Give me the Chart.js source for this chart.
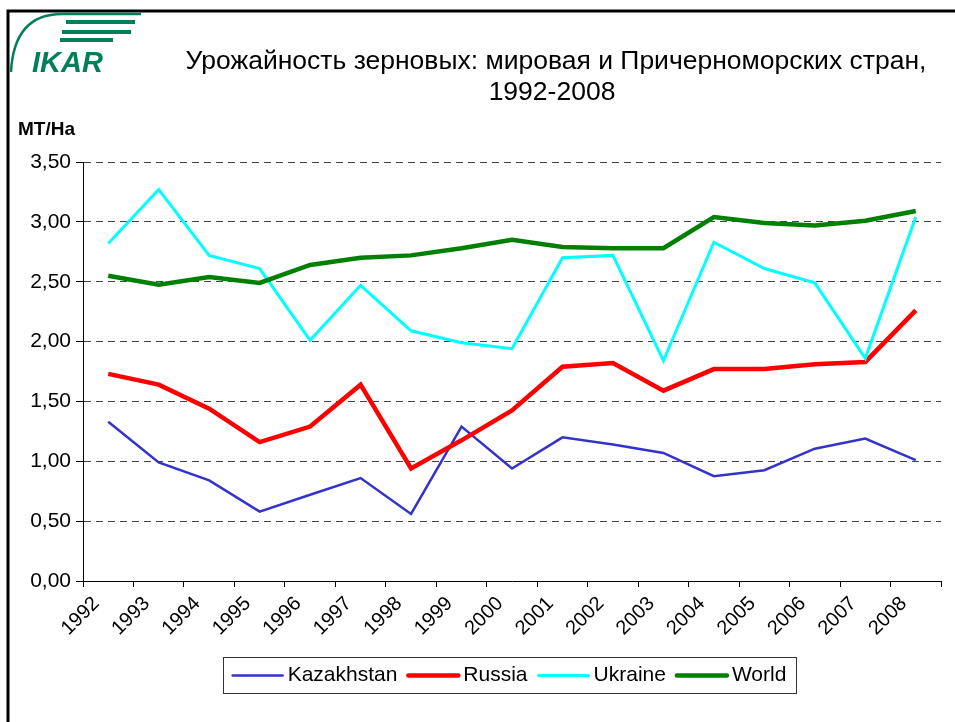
<!DOCTYPE html>
<html>
<head>
<meta charset="utf-8">
<script src="https://cdn.jsdelivr.net/npm/chart.js@4.4.1/dist/chart.umd.min.js"></script>
<style>
  html, body { margin: 0; padding: 0; background: #fff; }
  #wrap { width: 955px; height: 722px; position: relative; }
</style>
</head>
<body>
<div id="wrap"><canvas id="chart" width="955" height="722"></canvas></div>
<script>
// Данные: урожайность зерновых, т/га
const years = ['1992', '1993', '1994', '1995', '1996', '1997', '1998', '1999', '2000',
               '2001', '2002', '2003', '2004', '2005', '2006', '2007', '2008'];
const kazakhstan = [1.33, 0.99, 0.84, 0.58, 0.72, 0.86, 0.56, 1.29, 0.94,
                    1.20, 1.14, 1.07, 0.875, 0.925, 1.105, 1.19, 1.01];
const russia = [1.73, 1.64, 1.44, 1.16, 1.29, 1.64, 0.94, 1.175, 1.425,
                1.79, 1.82, 1.59, 1.77, 1.77, 1.81, 1.83, 2.26];
const ukraine = [2.82, 3.27, 2.72, 2.61, 2.01, 2.47, 2.09, 1.99, 1.94,
                 2.70, 2.72, 1.84, 2.83, 2.61, 2.49, 1.86, 3.04];
const world = [2.55, 2.475, 2.54, 2.49, 2.64, 2.70, 2.72, 2.78, 2.85,
               2.79, 2.78, 2.78, 3.04, 2.99, 2.97, 3.01, 3.09];

const seriesNames = ['Kazakhstan', 'Russia', 'Ukraine', 'World'];
const titleLines = ['Урожайность зерновых: мировая и Причерноморских стран,', '1992-2008'];
const unitLabel = 'MT/Ha';
const logoText = 'IKAR';

const FONT = "'Liberation Sans', Arial, sans-serif";
const LOGO_GREEN = '#00805A';

// Рамка, логотип, заголовок, подпись оси и легенда
const decorPlugin = {
  id: 'decor',
  afterDraw(chart) {
    const ctx = chart.ctx;
    ctx.save();

    // рамка (только верх и лево)
    ctx.strokeStyle = '#000';
    ctx.lineWidth = 3;
    ctx.beginPath();
    ctx.moveTo(955, 11);
    ctx.lineTo(8, 11);
    ctx.lineTo(8, 722);
    ctx.stroke();

    // логотип IKAR
    ctx.strokeStyle = LOGO_GREEN;
    ctx.lineWidth = 2.5;
    ctx.beginPath();
    ctx.moveTo(11, 72);
    ctx.quadraticCurveTo(14, 14, 62, 14);
    ctx.lineTo(141, 14);
    ctx.stroke();
    ctx.lineWidth = 4;
    [[66, 135, 22], [62, 131, 32], [60, 113, 40]].forEach(([x1, x2, y]) => {
      ctx.beginPath();
      ctx.moveTo(x1, y);
      ctx.lineTo(x2, y);
      ctx.stroke();
    });
    ctx.fillStyle = LOGO_GREEN;
    ctx.font = `italic bold 29px ${FONT}`;
    ctx.textAlign = 'left';
    ctx.textBaseline = 'alphabetic';
    ctx.fillText(logoText, 32, 72);

    // заголовок
    ctx.fillStyle = '#000';
    ctx.font = `26.5px ${FONT}`;
    ctx.textAlign = 'center';
    ctx.textBaseline = 'middle';
    ctx.fillText(titleLines[0], 556, 62);
    ctx.fillText(titleLines[1], 552, 93);

    // единицы
    ctx.font = `bold 19px ${FONT}`;
    ctx.textAlign = 'left';
    ctx.fillText(unitLabel, 18, 130);

    // легенда
    ctx.font = `21px ${FONT}`;
    const sample = 52, gapLine = 4, gapItem = 10, padX = 9;
    const items = chart.data.datasets.map(ds => ({
      label: ds.label, color: ds.borderColor, width: ds.borderWidth,
      textW: ctx.measureText(ds.label).width
    }));
    let total = padX * 2 - gapItem;
    items.forEach(it => { total += sample + gapLine + it.textW + gapItem; });
    const boxX = 509 - total / 2, boxY = 657, boxH = 36;
    ctx.strokeStyle = '#333';
    ctx.lineWidth = 1;
    ctx.strokeRect(Math.round(boxX) + 0.5, boxY + 0.5, Math.round(total), boxH);
    let x = boxX + padX;
    const cy = boxY + boxH / 2 + 0.5;
    items.forEach(it => {
      ctx.strokeStyle = it.color;
      ctx.lineWidth = it.width;
      ctx.lineCap = 'round';
      ctx.beginPath();
      ctx.moveTo(x + 1, cy);
      ctx.lineTo(x + sample - 1, cy);
      ctx.stroke();
      x += sample + gapLine;
      ctx.fillStyle = '#000';
      ctx.textAlign = 'left';
      ctx.fillText(it.label, x, cy);
      x += it.textW + gapItem;
    });

    ctx.restore();
  }
};

const mkSet = (label, data, color, width, order) => ({
  label, data,
  borderColor: color,
  backgroundColor: color,
  borderWidth: width,
  pointRadius: 0,
  pointHoverRadius: 0,
  tension: 0,
  fill: false,
  order
});

new Chart(document.getElementById('chart'), {
  type: 'line',
  data: {
    labels: years,
    datasets: [
      mkSet(seriesNames[0], kazakhstan, '#3333CC', 2.5, 4),
      mkSet(seriesNames[1], russia, '#FF0000', 4.5, 3),
      mkSet(seriesNames[2], ukraine, '#00FFFF', 3, 2),
      mkSet(seriesNames[3], world, '#008000', 4.5, 1)
    ]
  },
  options: {
    responsive: false,
    devicePixelRatio: 1,
    animation: false,
    layout: { padding: { left: 0, top: 162, right: 14, bottom: 0 } },
    plugins: {
      legend: { display: false },
      title: { display: false },
      tooltip: { enabled: false }
    },
    scales: {
      x: {
        offset: true,
        afterFit: (scale) => { scale.height = 141; },
        grid: {
          offset: true,
          drawOnChartArea: false,
          drawTicks: true,
          tickLength: 6,
          tickColor: '#000',
          color: '#000'
        },
        border: { display: true, color: '#000', width: 1 },
        ticks: {
          color: '#000',
          font: { family: FONT, size: 20 },
          minRotation: 45,
          maxRotation: 45,
          autoSkip: false,
          padding: 5,
          labelOffset: -12
        }
      },
      y: {
        min: 0,
        max: 3.5,
        afterFit: (scale) => { scale.width = 83; },
        grid: {
          drawTicks: true,
          tickLength: 7,
          tickColor: '#000',
          tickBorderDash: [],
          lineWidth: 1,
          color: (c) => (c.tick && c.tick.value === 0 ? 'rgba(0,0,0,0)' : '#444')
        },
        border: { display: true, color: '#000', width: 1, dash: [7, 5] },
        ticks: {
          stepSize: 0.5,
          color: '#000',
          padding: 5,
          font: { family: FONT, size: 21 },
          callback: (v) => v.toFixed(2).replace('.', ',')
        }
      }
    }
  },
  plugins: [decorPlugin]
});
</script>
</body>
</html>
